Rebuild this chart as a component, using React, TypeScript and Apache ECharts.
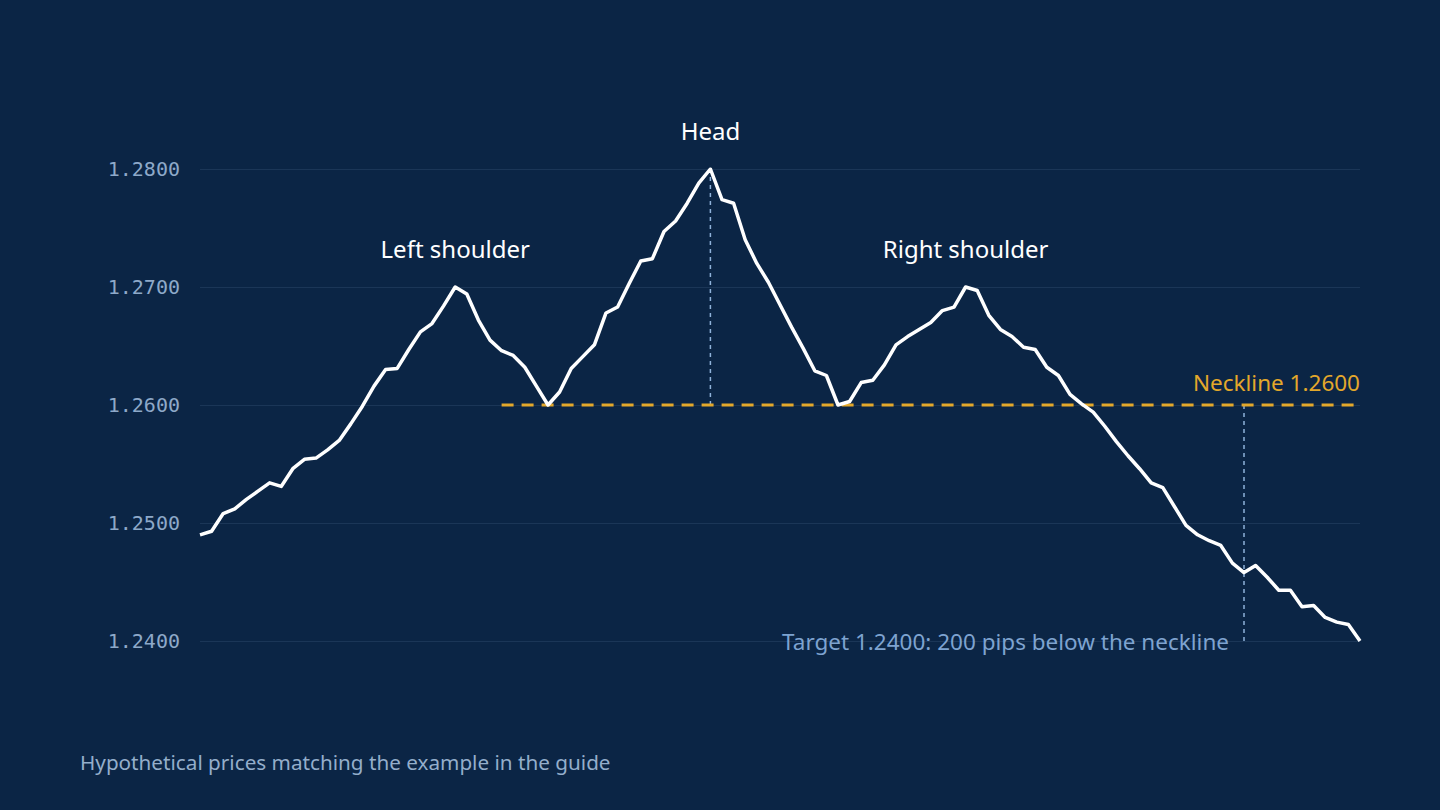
import React, { useEffect, useRef } from 'react';
import * as echarts from 'echarts';

// hypothetical closing prices, one per step (101 steps)
const prices: number[] = [
  1.2490, 1.2493, 1.2508, 1.2512, 1.2520, 1.2527, 1.2534, 1.2531, 1.2546, 1.2554,
  1.2555, 1.2562, 1.2570, 1.2584, 1.2599, 1.2616, 1.2630, 1.2631, 1.2647, 1.2662,
  1.2669, 1.2684, 1.2700, 1.2694, 1.2672, 1.2655, 1.2646, 1.2642, 1.2632, 1.2616,
  1.2600, 1.2611, 1.2631, 1.2641, 1.2651, 1.2678, 1.2683, 1.2703, 1.2722, 1.2724,
  1.2747, 1.2756, 1.2771, 1.2788, 1.2800, 1.2774, 1.2771, 1.2740, 1.2720, 1.2704,
  1.2685, 1.2666, 1.2648, 1.2629, 1.2625, 1.2600, 1.2603, 1.2619, 1.2621, 1.2634,
  1.2651, 1.2658, 1.2664, 1.2670, 1.2680, 1.2683, 1.2700, 1.2697, 1.2676, 1.2664,
  1.2658, 1.2649, 1.2647, 1.2632, 1.2625, 1.2609, 1.2601, 1.2594, 1.2582, 1.2569,
  1.2557, 1.2546, 1.2534, 1.2530, 1.2514, 1.2498, 1.2490, 1.2485, 1.2481, 1.2466,
  1.2458, 1.2464, 1.2454, 1.2443, 1.2443, 1.2429, 1.2430, 1.2420, 1.2416, 1.2414,
  1.2400,
];

const yTicks: number[] = [1.24, 1.25, 1.26, 1.27, 1.28];

const necklineValue = 1.26;
const necklineStartIdx = 26;
const targetValue = 1.24;
const headIdx = 44;
const targetIdx = 90;

// annotation labels: [index, price, text]
const patternLabels: [number, number, string][] = [
  [22, 1.27, 'Left shoulder'],
  [44, 1.28, 'Head'],
  [66, 1.27, 'Right shoulder'],
];

const necklineText = 'Neckline 1.2600';
const targetText = 'Target 1.2400: 200 pips below the neckline';
const footnote = 'Hypothetical prices matching the example in the guide';

const BG = '#0b2545';
const SANS = '"Noto Sans", "Open Sans", sans-serif';

const labelSeries = (data: any[], label: any) => ({
  type: 'scatter' as const,
  symbolSize: 0,
  silent: true,
  itemStyle: { opacity: 1, color: 'transparent' },
  data,
  label: { show: true, position: 'inside', formatter: (p: any) => p.name, fontFamily: SANS, ...label },
  z: 6,
});

const App: React.FC = () => {
  const chartRef = useRef<HTMLDivElement>(null);

  useEffect(() => {
    document.body.style.margin = '0';
    const chart = echarts.init(chartRef.current!, undefined, { renderer: 'svg' });
    const lastIdx = prices.length - 1;

    const option: echarts.EChartsOption = {
      animation: false,
      backgroundColor: BG,
      grid: { left: 200, right: 80, top: 169, bottom: 169 },
      xAxis: {
        type: 'value',
        min: 0,
        max: lastIdx,
        show: false,
      },
      yAxis: {
        type: 'value',
        min: yTicks[0],
        max: yTicks[yTicks.length - 1],
        interval: 0.01,
        axisLine: { show: false },
        axisTick: { show: false },
        axisLabel: {
          color: '#8ea9c9',
          fontFamily: '"DejaVu Sans Mono", monospace',
          fontSize: 20,
          margin: 20,
          formatter: (v: number) => v.toFixed(4),
        },
        splitLine: { lineStyle: { color: '#1b3657', width: 1 } },
      },
      series: [
        {
          type: 'line',
          data: [
            [necklineStartIdx, necklineValue],
            [lastIdx, necklineValue],
          ],
          symbol: 'none',
          silent: true,
          lineStyle: { color: '#e3a82b', width: 3, type: [12, 8] },
          z: 2,
        },
        {
          type: 'line',
          data: [
            [headIdx, necklineValue],
            [headIdx, prices[headIdx]],
          ],
          symbol: 'none',
          silent: true,
          lineStyle: { color: '#8fb2da', width: 1.5, type: [4, 4] },
          z: 1,
        },
        {
          type: 'line',
          data: [
            [targetIdx, targetValue],
            [targetIdx, necklineValue],
          ],
          symbol: 'none',
          silent: true,
          lineStyle: { color: '#8fb2da', width: 1.5, type: [4, 4] },
          z: 1,
        },
        {
          type: 'line',
          data: prices.map((p, i) => [i, p]),
          symbol: 'none',
          lineStyle: { color: '#ffffff', width: 3.5, join: 'round' },
          z: 5,
        },
        labelSeries(
          patternLabels.map(([i, v, t]) => ({ value: [i, v], name: t })),
          { offset: [0, -39], color: '#ffffff', fontSize: 24 },
        ),
        labelSeries(
          [{ value: [lastIdx, necklineValue], name: necklineText }],
          { align: 'right', offset: [0, -23], color: '#e3a82b', fontSize: 22.5 },
        ),
        labelSeries(
          [{ value: [targetIdx, targetValue], name: targetText }],
          { align: 'right', offset: [-15, 0], color: '#7ea3d0', fontSize: 22.5 },
        ),
      ],
      graphic: [
        {
          type: 'text',
          left: 80,
          top: 751,
          style: {
            text: footnote,
            fill: '#94aecb',
            fontSize: 20.7,
            fontFamily: SANS,
          },
        },
      ],
    };

    chart.setOption(option);
    return () => {
      chart.dispose();
    };
  }, []);

  return <div ref={chartRef} style={{ width: 1440, height: 810, background: BG }} />;
};

export default App;
